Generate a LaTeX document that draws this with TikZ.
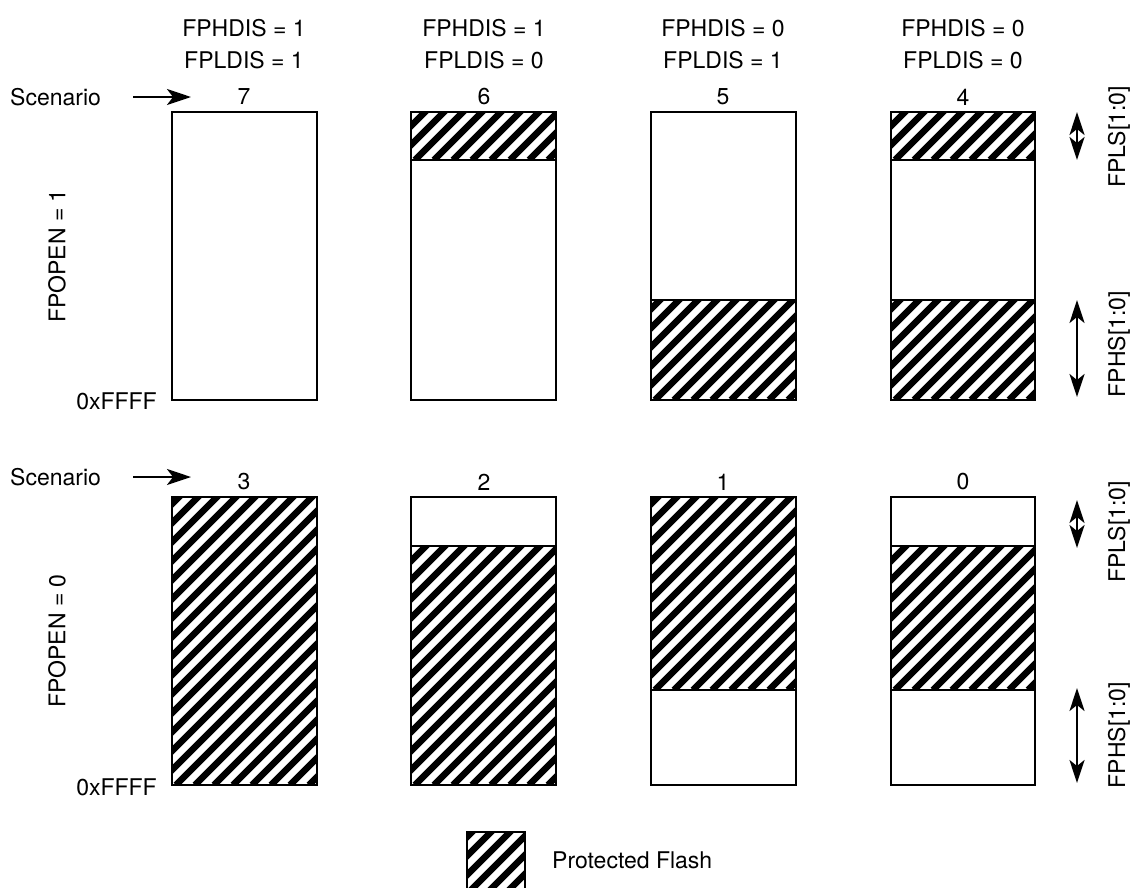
\documentclass[tikz,border=0pt]{standalone}
\usepackage{fontspec}
\setmainfont{TeX Gyre Heros}
\usetikzlibrary{arrows.meta,positioning}

% hatched (protected) part of a flash block: x1, y1 (top), x2, y2 (bottom)
\newcommand{\protpart}[4]{%
  \begin{scope}
    \clip (#1,#2) rectangle (#3,#4);
    \foreach \s in {-300,-281,...,170}
      \draw[hatchLine] (#1+\s,#4) -- ++(330,-330);
  \end{scope}
  \draw[memBox] (#1,#2) rectangle (#3,#4);
}

\begin{document}
\begin{tikzpicture}[x=1pt, y=-1pt,
    every node/.style={font=\fontsize{23}{27}\selectfont, inner sep=0pt},
    memBox/.style={draw=black, line width=2.5pt},
    hatchLine/.style={line width=6.5pt, draw=black},
    scnArrow/.style={-{Stealth[length=24pt, width=16pt, inset=6pt]}, line width=2.5pt},
    sizeArrow/.style={{Stealth[length=23pt, width=15pt, inset=6pt]}-{Stealth[length=23pt, width=15pt, inset=6pt]}, line width=2.5pt},
    sideLabel/.style={rotate=90}
]
    \useasboundingbox (0,0) rectangle (1135,887);

    % column headings
    \node (hdA) at (244,28) {FPHDIS = 1};
    \node (ldA) at (244,60) {FPLDIS = 1};
    \node (hdB) at (484,28) {FPHDIS = 1};
    \node (ldB) at (484,60) {FPLDIS = 0};
    \node (hdC) at (723,28) {FPHDIS = 0};
    \node (ldC) at (723,60) {FPLDIS = 1};
    \node (hdD) at (963,28) {FPHDIS = 0};
    \node (ldD) at (963,60) {FPLDIS = 0};

    % row FPOPEN = 1
    \node[anchor=west] (scnTop) at (10,97) {Scenario};
    \coordinate (scnTopA) at (133,97);
    \coordinate (scnTopB) at (191,97);
    \draw[scnArrow] (scnTopA) -- (scnTopB);
    \node[sideLabel] (openOne) at (57,256) {FPOPEN = 1};
    \node[anchor=east] (endTop) at (157,401) {0xFFFF};

    \node (sc7) at (244,97) {7};
    \node (sc6) at (484,97) {6};
    \node (sc5) at (723,97) {5};
    \node (sc4) at (963,97) {4};

    \draw[memBox, fill=white] (172,112) rectangle (317,400);
    \draw[memBox, fill=white] (411,112) rectangle (556,400);
    \protpart{411}{112}{556}{160}
    \draw[memBox, fill=white] (651,112) rectangle (796,400);
    \protpart{651}{300}{796}{400}
    \draw[memBox, fill=white] (891,112) rectangle (1035,400);
    \protpart{891}{112}{1035}{160}
    \protpart{891}{300}{1035}{400}

    \coordinate (lsTopA) at (1077,112);
    \coordinate (lsTopB) at (1077,160);
    \coordinate (hsTopA) at (1077,300);
    \coordinate (hsTopB) at (1077,397);
    \draw[sizeArrow] (lsTopA) -- (lsTopB);
    \draw[sizeArrow] (hsTopA) -- (hsTopB);
    \node[sideLabel] (lsTop) at (1119,137) {FPLS[1:0]};
    \node[sideLabel] (hsTop) at (1119,344) {FPHS[1:0]};

    % row FPOPEN = 0
    \node[anchor=west] (scnBot) at (10,477) {Scenario};
    \coordinate (scnBotA) at (133,477);
    \coordinate (scnBotB) at (191,477);
    \draw[scnArrow] (scnBotA) -- (scnBotB);
    \node[sideLabel] (openZero) at (57,641) {FPOPEN = 0};
    \node[anchor=east] (endBot) at (157,787) {0xFFFF};

    \node (sc3) at (244,482) {3};
    \node (sc2) at (484,482) {2};
    \node (sc1) at (723,482) {1};
    \node (sc0) at (963,482) {0};

    \protpart{172}{497}{317}{785}
    \draw[memBox, fill=white] (411,497) rectangle (556,785);
    \protpart{411}{546}{556}{785}
    \draw[memBox, fill=white] (651,497) rectangle (796,785);
    \protpart{651}{497}{796}{690}
    \draw[memBox, fill=white] (891,497) rectangle (1035,785);
    \protpart{891}{546}{1035}{690}

    \coordinate (lsBotA) at (1077,500);
    \coordinate (lsBotB) at (1077,548);
    \coordinate (hsBotA) at (1077,688);
    \coordinate (hsBotB) at (1077,783);
    \draw[sizeArrow] (lsBotA) -- (lsBotB);
    \draw[sizeArrow] (hsBotA) -- (hsBotB);
    \node[sideLabel] (lsBot) at (1119,532) {FPLS[1:0]};
    \node[sideLabel] (hsBot) at (1119,735) {FPHS[1:0]};

    % legend
    \protpart{467}{832}{525}{890}
    \node[anchor=west] (legText) at (552,860) {Protected Flash};
\end{tikzpicture}
\end{document}
